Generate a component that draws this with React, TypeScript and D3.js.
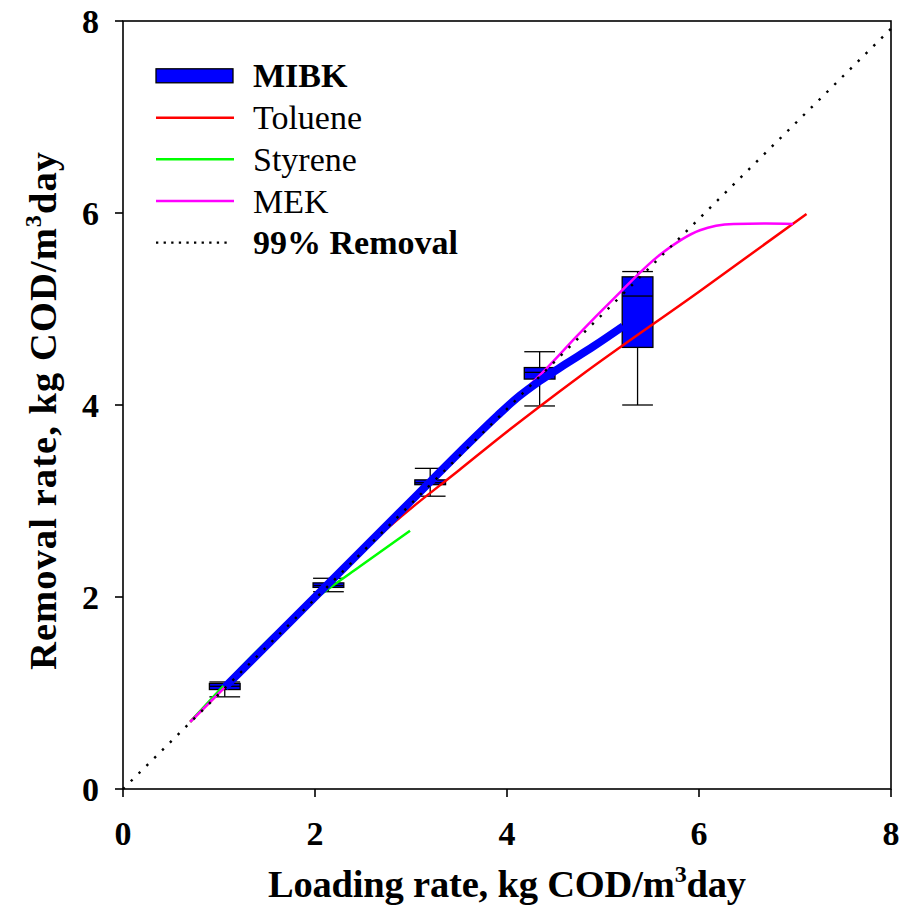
import React from "react";
import * as d3 from "d3";

const xTicks = [0, 2, 4, 6, 8];
const yTicks = [0, 2, 4, 6, 8];

const tolueneX = [0.7, 2.0, 2.45, 2.9, 3.5, 3.96, 4.76, 6.0, 7.12];
const tolueneY = [0.7, 2.0, 2.44, 2.84, 3.32, 3.69, 4.3, 5.18, 5.99];

const styreneX = [0.7, 1.95, 2.12, 2.47, 2.99];
const styreneY = [0.7, 1.94, 2.07, 2.32, 2.69];

const mekX = [0.7, 2.0, 3.0, 4.0, 4.41, 4.73, 5.125, 5.6, 6.01, 6.36, 6.7, 6.98];
const mekY = [0.7, 2.0, 3.0, 3.98, 4.38, 4.72, 5.12, 5.57, 5.82, 5.885, 5.89, 5.885];

const mibkX = [1.06, 2.0, 3.0, 3.6, 3.9, 4.1, 4.34, 4.6, 4.9, 5.21];
const mibkY = [1.06, 2.0, 3.0, 3.6, 3.89, 4.07, 4.25, 4.42, 4.61, 4.82];

const boxX = [1.06, 2.14, 3.2, 4.34, 5.36];
const whiskerLow = [0.96, 2.055, 3.05, 3.99, 4.0];
const q1 = [1.036, 2.1, 3.17, 4.27, 4.6];
const median = [1.07, 2.12, 3.19, 4.34, 5.135];
const q3 = [1.1, 2.147, 3.22, 4.39, 5.335];
const whiskerHigh = [1.115, 2.195, 3.34, 4.555, 5.39];

const removalX = [0, 8];
const removalY = [0, 7.92];

const legendLabels = ["MIBK", "Toluene", "Styrene", "MEK", "99% Removal"];

const FONT = "'Liberation Serif', 'Times New Roman', serif";

export default function App() {
  const W = 910, H = 919;
  const xs = d3.scaleLinear().domain([0, 8]).range([123, 891]);
  const ys = d3.scaleLinear().domain([0, 8]).range([789, 21]);

  const line = d3
    .line<[number, number]>()
    .x((d) => xs(d[0]))
    .y((d) => ys(d[1]))
    .curve(d3.curveMonotoneX);
  const zip = (a: number[], b: number[]) => a.map((v, i) => [v, b[i]] as [number, number]);

  const boxHalf = 0.16;

  const legendY = [75.8, 117.7, 159.3, 201, 242.7];
  const legColors = ["#0000ff", "#ff0000", "#00ff00", "#ff00ff", "#000000"];

  return (
    <svg width={W} height={H} style={{ position: "absolute", left: 0, top: 0 }} fontFamily={FONT}>
      <rect x={0} y={0} width={W} height={H} fill="#fff" />
      {/* boxes */}
      {boxX.map((bx, i) => {
        const x0 = xs(bx - boxHalf), x1 = xs(bx + boxHalf), xc = xs(bx);
        return (
          <g key={i} stroke="#000" strokeWidth={1.3}>
            <line x1={xc} x2={xc} y1={ys(whiskerLow[i])} y2={ys(whiskerHigh[i])} />
            <line x1={x0} x2={x1} y1={ys(whiskerLow[i])} y2={ys(whiskerLow[i])} />
            <line x1={x0} x2={x1} y1={ys(whiskerHigh[i])} y2={ys(whiskerHigh[i])} />
            <rect x={x0} y={ys(q3[i])} width={x1 - x0} height={ys(q1[i]) - ys(q3[i])} fill="#0000ff" />
            <line x1={x0} x2={x1} y1={ys(median[i])} y2={ys(median[i])} />
          </g>
        );
      })}
      <path d={line(zip(tolueneX, tolueneY)) || ""} fill="none" stroke="#ff0000" strokeWidth={2.5} />
      <path d={line(zip(styreneX, styreneY)) || ""} fill="none" stroke="#00ff00" strokeWidth={2.5} />
      <path d={line(zip(mekX, mekY)) || ""} fill="none" stroke="#ff00ff" strokeWidth={2.5} />
      <path d={line(zip(mibkX, mibkY)) || ""} fill="none" stroke="#0000ff" strokeWidth={8} />
      <path
        d={d3.line<[number, number]>().x((d) => xs(d[0])).y((d) => ys(d[1]))(zip(removalX, removalY)) || ""}
        fill="none"
        stroke="#000"
        strokeWidth={2.4}
        strokeDasharray="2.4 8.6"
      />
      {/* frame */}
      <rect x={xs(0)} y={ys(8)} width={xs(8) - xs(0)} height={ys(0) - ys(8)} fill="none" stroke="#000" strokeWidth={1.6} />
      {/* ticks */}
      {xTicks.map((t) => (
        <g key={"x" + t}>
          <line x1={xs(t)} x2={xs(t)} y1={ys(0)} y2={ys(0) + 8} stroke="#000" strokeWidth={1.6} />
          <text x={xs(t)} y={845} textAnchor="middle" fontSize={34} fontWeight="bold">{t}</text>
        </g>
      ))}
      {yTicks.map((t) => (
        <g key={"y" + t}>
          <line x1={xs(0) - 8} x2={xs(0)} y1={ys(t)} y2={ys(t)} stroke="#000" strokeWidth={1.6} />
          <text x={99} y={ys(t) + 12} textAnchor="end" fontSize={34} fontWeight="bold">{t}</text>
        </g>
      ))}
      {/* axis titles */}
      <text x={507} y={897} textAnchor="middle" fontSize={38.5} fontWeight="bold" textLength={478} lengthAdjust="spacing">
        Loading rate, kg COD/m<tspan dy={-15} fontSize={24}>3</tspan><tspan dy={15}>day</tspan>
      </text>
      <text
        transform="translate(56,411) rotate(-90)"
        textAnchor="middle"
        fontSize={38.5}
        fontWeight="bold"
        textLength={518}
        lengthAdjust="spacing"
      >
        Removal rate, kg COD/m<tspan dy={-15} fontSize={24}>3</tspan><tspan dy={15}>day</tspan>
      </text>
      {/* legend */}
      {legendLabels.map((lab, i) => (
        <g key={lab}>
          {i === 0 ? (
            <rect x={156} y={legendY[i] - 7} width={77} height={14} fill="#0000ff" stroke="#000" strokeWidth={1.3} />
          ) : i === 4 ? (
            <line x1={156} x2={230} y1={legendY[i]} y2={legendY[i]} stroke="#000" strokeWidth={2.3} strokeDasharray="2.3 5.3" />
          ) : (
            <line x1={156} x2={234} y1={legendY[i]} y2={legendY[i]} stroke={legColors[i]} strokeWidth={2.5} />
          )}
          <text
            x={253}
            y={legendY[i] + 11.5}
            fontSize={34}
            fontWeight={i === 0 || i === 4 ? "bold" : "normal"}
          >
            {lab}
          </text>
        </g>
      ))}
    </svg>
  );
}
